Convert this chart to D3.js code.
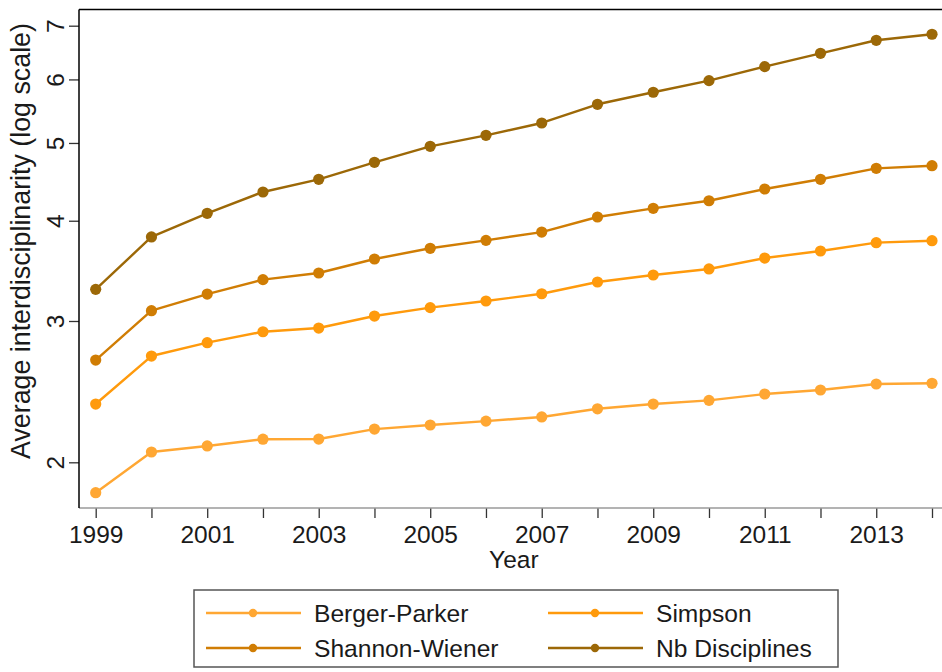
<!DOCTYPE html>
<html>
<head>
<meta charset="utf-8">
<script src="https://cdn.jsdelivr.net/npm/d3@7"></script>
<style>
  html, body { margin: 0; padding: 0; background: #fff; }
  svg { display: block; font-family: "Liberation Sans", Arial, sans-serif; }
</style>
</head>
<body>
<svg id="chart" width="942" height="672"></svg>
<script>
const years = [1999,2000,2001,2002,2003,2004,2005,2006,2007,2008,2009,2010,2011,2012,2013,2014];
const xTickLabels = [1999,2001,2003,2005,2007,2009,2011,2013];
const yTicks = [2,3,4,5,6,7];
const bergerParker = [1.833,2.060,2.096,2.137,2.138,2.200,2.226,2.251,2.278,2.332,2.364,2.389,2.433,2.461,2.504,2.509];
const simpson      = [2.364,2.713,2.819,2.909,2.940,3.043,3.117,3.177,3.244,3.355,3.423,3.483,3.594,3.667,3.756,3.777];
const shannonWiener= [2.682,3.090,3.241,3.378,3.443,3.584,3.696,3.781,3.872,4.043,4.145,4.236,4.381,4.505,4.649,4.684];
const nbDisciplines= [3.285,3.818,4.086,4.344,4.505,4.730,4.952,5.111,5.295,5.587,5.783,5.979,6.224,6.467,6.713,6.830];
const seriesNames = ["Berger-Parker","Simpson","Shannon-Wiener","Nb Disciplines"];
const seriesColors = ["#FFA733","#FF9A0C","#D07D04","#9C6807"];
const seriesValues = [bergerParker, simpson, shannonWiener, nbDisciplines];

const svg = d3.select("#chart");
const L = 79, T = 9.5, B = 508, R = 945;
const x = d3.scaleLinear().domain([1999, 2014]).range([95.7, 932]);
const y = d3.scaleLog().domain([2, 7]).range([462.3, 25.7]);
const textColor = "#1a1a1a";
const tickFs = 24.5, titleFs = 24.5, yTitleFs = 26.8, legendFs = 24.6;

// X axis
const xAxis = d3.axisBottom(x).tickValues(years).tickSize(10).tickFormat(d => xTickLabels.includes(d) ? d : "");
const gx = svg.append("g").attr("transform", `translate(0,${B})`).call(xAxis);
gx.select(".domain").remove();
gx.append("line").attr("x1", L).attr("x2", R).attr("y1", 0).attr("y2", 0).attr("stroke", "#9a9a9a").attr("stroke-width", 1.5);
gx.selectAll(".tick line").attr("stroke", "#333").attr("stroke-width", 1.3);
gx.selectAll(".tick text").attr("font-size", tickFs).attr("fill", textColor).attr("dy", "0.9em").attr("font-family", "Liberation Sans, Arial, sans-serif");

// Y axis
const yAxis = d3.axisLeft(y).tickValues(yTicks).tickSize(10).tickFormat(d3.format("d"));
const gy = svg.append("g").attr("transform", `translate(${L},0)`).call(yAxis);
gy.select(".domain").remove();
gy.append("line").attr("x1", 0).attr("x2", 0).attr("y1", T).attr("y2", B).attr("stroke", "#000").attr("stroke-width", 1.5);
gy.selectAll(".tick line").attr("stroke", "#333").attr("stroke-width", 1.3);
gy.selectAll(".tick text")
  .attr("font-size", tickFs).attr("fill", textColor).attr("font-family", "Liberation Sans, Arial, sans-serif")
  .attr("x", 0).attr("dy", null).attr("text-anchor", "middle")
  .attr("transform", "translate(-24,0) rotate(-90)")
  .attr("dominant-baseline", "central");

// top border
svg.append("line").attr("x1", L).attr("x2", R).attr("y1", T).attr("y2", T).attr("stroke", "#000").attr("stroke-width", 1.5);

// Axis titles
svg.append("text").attr("x", x(2006.5)).attr("y", 568).attr("text-anchor", "middle")
  .attr("font-size", titleFs).attr("fill", textColor).text("Year");
svg.append("text").attr("transform", `translate(30,241) rotate(-90)`).attr("text-anchor", "middle")
  .attr("font-size", yTitleFs).attr("fill", textColor).text("Average interdisciplinarity (log scale)");

// Lines and points
const line = d3.line().x((d, i) => x(years[i])).y(d => y(d));
seriesValues.forEach((vals, k) => {
  svg.append("path").datum(vals).attr("d", line).attr("fill", "none")
    .attr("stroke", seriesColors[k]).attr("stroke-width", 2.4).attr("stroke-linejoin", "round");
  svg.append("g").selectAll("circle").data(vals).join("circle")
    .attr("cx", (d, i) => x(years[i])).attr("cy", d => y(d)).attr("r", 5.6)
    .attr("fill", seriesColors[k]);
});

// Legend
const lg = svg.append("g");
lg.append("rect").attr("x", 194).attr("y", 590).attr("width", 644).attr("height", 77)
  .attr("fill", "#fff").attr("stroke", "#555").attr("stroke-width", 1.5);
const legendPos = [[206, 613],[548, 613],[206, 648],[548, 648]];
seriesNames.forEach((name, k) => {
  const [lx, ly] = legendPos[k];
  lg.append("line").attr("x1", lx).attr("x2", lx + 95).attr("y1", ly).attr("y2", ly)
    .attr("stroke", seriesColors[k]).attr("stroke-width", 2.6);
  lg.append("circle").attr("cx", lx + 47).attr("cy", ly).attr("r", 4.2).attr("fill", seriesColors[k]);
  lg.append("text").attr("x", lx + 108).attr("y", ly).attr("dominant-baseline", "central")
    .attr("font-size", legendFs).attr("fill", textColor).text(name);
});
</script>
</body>
</html>
